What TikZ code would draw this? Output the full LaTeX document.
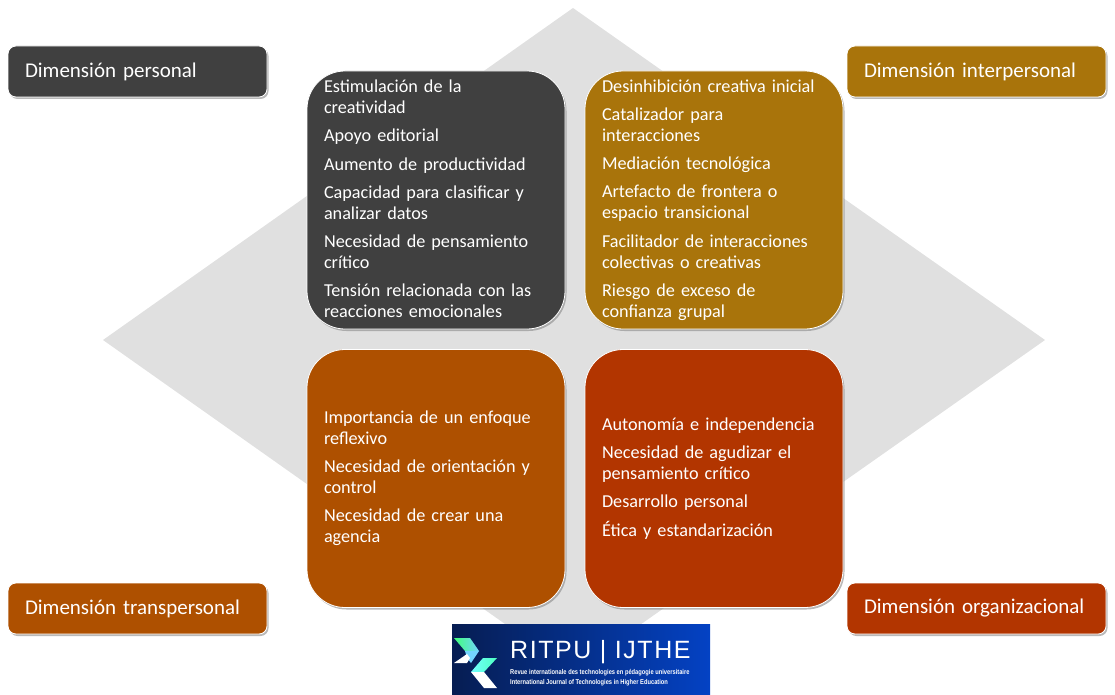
\documentclass[tikz,border=0pt]{standalone}
\usepackage{fontspec}
\setmainfont{Carlito}
\newfontfamily\logofont[LetterSpace=6.2]{Liberation Sans}
\newfontfamily\lemafont[FakeStretch=0.82]{Liberation Sans}
\usetikzlibrary{shadows}
\definecolor{gris}{HTML}{404040}
\definecolor{ocre}{HTML}{A9740B}
\definecolor{naranja}{HTML}{AE5000}
\definecolor{rojo}{HTML}{B23500}
\definecolor{rombo}{HTML}{E0E0E0}
\definecolor{marino}{HTML}{061D52}
\definecolor{azul}{HTML}{0442C4}
\begin{document}
\begin{tikzpicture}[x=1pt, y=-1pt]
	\tikzset{titulo/.style={draw=white, line width=0.8pt, rounded corners=8pt, text=white, font=\fontsize{21}{24}\selectfont, minimum width=259pt, minimum height=51pt, text width=225pt, inner xsep=17pt, inner ysep=0pt, align=left, drop shadow={shadow xshift=1.5pt, shadow yshift=-2pt, opacity=0.55}},
		carta/.style={draw=white, line width=0.8pt, rounded corners=38pt, text=white, font=\fontsize{18.2}{21}\selectfont, minimum width=258pt, minimum height=258pt, text width=224pt, inner xsep=17pt, inner ysep=0pt, align=left, drop shadow={shadow xshift=1.5pt, shadow yshift=-2pt, opacity=0.55}}};

	\useasboundingbox (0,0) rectangle (1115,695);
	\fill[rombo] (573,8) -- (1045,340) -- (573,672) -- (103,340) -- cycle;

	\node[titulo, fill=gris]    (personal)       at ( 137.5,  71.5) {Dimensión personal};
	\node[titulo, fill=ocre]    (interpersonal)  at ( 976.5,  71.5) {Dimensión interpersonal};
	\node[titulo, fill=naranja] (transpersonal)  at ( 137.5, 608.5) {Dimensión transpersonal};
	\node[titulo, fill=rojo]    (organizacional) at ( 976.5, 608.5) {Dimensión organizacional};

	\node[carta, fill=gris] (cartaA) at (436,200) {Estimulación de la\\creatividad\\[7.2pt]Apoyo editorial\\[7.2pt]Aumento de productividad\\[7.2pt]Capacidad para clasificar y\\analizar datos\\[7.2pt]Necesidad de pensamiento\\crítico\\[7.2pt]Tensión relacionada con las\\reacciones emocionales\par\vspace{2pt}};
	\node[carta, fill=ocre] (cartaB) at (714,200) {Desinhibición creativa inicial\\[7.2pt]Catalizador para\\interacciones\\[7.2pt]Mediación tecnológica\\[7.2pt]Artefacto de frontera o\\espacio transicional\\[7.2pt]Facilitador de interacciones\\colectivas o creativas\\[7.2pt]Riesgo de exceso de\\confianza grupal};
	\node[carta, fill=naranja] (cartaC) at (436,478.5) {Importancia de un enfoque\\reflexivo\\[7.2pt]Necesidad de orientación y\\control\\[7.2pt]Necesidad de crear una\\agencia};
	\node[carta, fill=rojo] (cartaD) at (714,478.5) {Autonomía e independencia\\[7.2pt]Necesidad de agudizar el\\pensamiento crítico\\[7.2pt]Desarrollo personal\\[7.2pt]Ética y estandarización};

	\shade[left color=marino, right color=azul] (452,624) rectangle (710,695);
	\shade[left color=green!70!cyan!75!white, right color=blue!30!cyan!55!white] (454,638) -- (470,638) -- (479,651) -- (465,651) -- cycle;
	\fill[blue!30!cyan!55!white] (465,651) -- (479,651) -- (471,663) -- (467,658) -- cycle;
	\fill[white] (467,654) -- (470,658) -- (467,663) -- (454,663) -- cycle;
	\shade[left color=cyan!55!white, right color=green!35!cyan!70!white] (483,658) -- (497,658) -- (484,672) -- (471,672) -- cycle;
	\fill[white] (471,672) -- (484,672) -- (497,688) -- (484,688) -- cycle;
	\node[text=white, inner sep=0pt, anchor=west, font=\logofont\fontsize{25}{25}\selectfont] (marca) at (510,652) {RITPU | IJTHE};
	\node[text=white, inner sep=0pt, anchor=west, align=left, font=\lemafont\bfseries\fontsize{7}{10}\selectfont] (lema) at (510,678) {Revue internationale des technologies en pédagogie universitaire\\International Journal of Technologies in Higher Education};
\end{tikzpicture}
\end{document}
